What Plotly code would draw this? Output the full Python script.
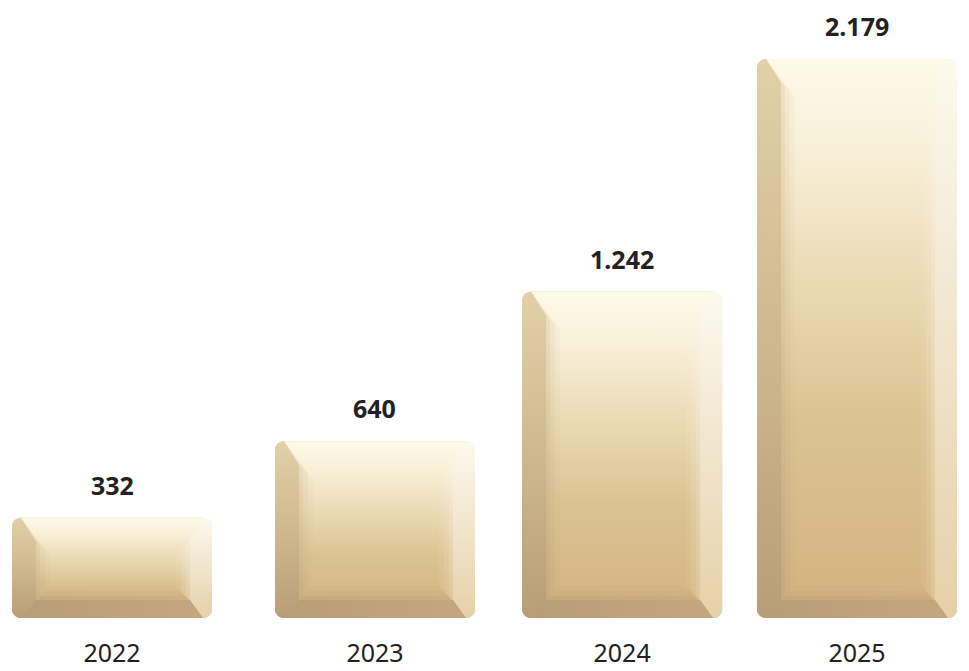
import math
import plotly.graph_objects as go

# ---------------- data ----------------
years = ["2022", "2023", "2024", "2025"]
values = [332, 640, 1242, 2179]

# ---------------- layout / style constants ----------------
FIG_W, FIG_H = 953, 663  # page adds an 8px body margin around the figure
MARGIN_B = 53            # plot bottom sits at the bars' floor
TOP_PAD_PX = 51          # space above the tallest bar
FLOOR = -72              # visual pedestal under the bars (axis baseline)
X_RANGE = [-0.4188, 3.4188]
X_NUDGE = [0.0, 0.059, 0.054, 0.0]   # small horizontal nudges of bars
BAR_W_PX = 200
RADIUS_PX = 9
EDGE_L, EDGE_R, EDGE_B, EDGE_T = 24, 22, 18, 24
TEXT_COLOR = "#222222"
FONT = "Noto Sans"
FONT_SIZE = 25

FACE_SCALE = [[0.0, "#d3b37f"], [0.35, "#dcc292"], [0.6, "#eadab4"],
              [0.85, "#f8f1d9"], [1.0, "#fdfae8"]]
LEFT_SCALE = [[0.0, "#b99d78"], [0.5, "#cfb88f"], [1.0, "#e2d0a9"]]
RIGHT_SCALE = [[0.0, "#e6d0a8"], [0.5, "#f0e5cc"], [1.0, "#fcf9ee"]]
BOTTOM_SCALE = [[0.0, "#b99d78"], [1.0, "#c4a77d"]]
SOFTEN = ((14, 0.12), (9, 0.2), (4, 0.35), (0, 1.0))

plot_h = FIG_H - MARGIN_B
ux = FIG_W / (X_RANGE[1] - X_RANGE[0])                 # px per x unit
uy = (plot_h - TOP_PAD_PX) / (max(values) - FLOOR)     # px per y unit
Y_RANGE = [FLOOR, FLOOR + plot_h / uy]
bar_w = BAR_W_PX / ux
positions = [i + X_NUDGE[i] for i in range(len(years))]


def arc(cx, cy, r, a0, a1, n=10):
    return [(cx + r * math.cos(math.radians(a0 + (a1 - a0) * k / n)),
             cy + r * math.sin(math.radians(a0 + (a1 - a0) * k / n)))
            for k in range(n + 1)]


def to_data(pts, center):
    xs = [center + (px - BAR_W_PX / 2) / ux for px, _ in pts]
    ys = [FLOOR + py / uy for _, py in pts]
    return xs + [xs[0]], ys + [ys[0]]


def poly_trace(pts, center, scale, kind, opacity=1.0):
    xs, ys = to_data(pts, center)
    return go.Scatter(x=xs, y=ys, mode="none", fill="toself",
                      fillgradient=dict(type=kind, colorscale=scale),
                      opacity=opacity, hoverinfo="skip", showlegend=False)


fig = go.Figure()

# real bars (base layer, carries hover info)
fig.add_trace(go.Bar(
    x=positions, y=[v - FLOOR for v in values], base=FLOOR, width=bar_w,
    marker=dict(color="#d9c197", cornerradius=RADIUS_PX, line=dict(width=0)),
    customdata=values, hovertemplate="%{customdata}<extra></extra>",
    showlegend=False))

W, r = BAR_W_PX, RADIUS_PX
for v, c in zip(values, positions):
    H = (v - FLOOR) * uy
    # face: full rounded rectangle with vertical gradient
    face = (arc(r, r, r, 180, 270) + arc(W - r, r, r, 270, 360) +
            arc(W - r, H - r, r, 0, 90) + arc(r, H - r, r, 90, 180))
    fig.add_trace(poly_trace(face, c, FACE_SCALE, "vertical"))

    for grow, op in SOFTEN:
        L, R, B, T = EDGE_L + grow, EDGE_R + grow, EDGE_B + grow, EDGE_T + grow
        left = ([(L, H - T), (L, B)] + arc(r, r, r, 270, 180) +
                arc(r, H - r, r, 180, 90))
        fig.add_trace(poly_trace(left, c, LEFT_SCALE, "vertical", op))
        right = ([(W - R, B)] + arc(W - r, r, r, 270, 360) +
                 arc(W - r, H - r, r, 0, 90) + [(W - R, H - T)])
        fig.add_trace(poly_trace(right, c, RIGHT_SCALE, "vertical", op))
        bottom = [(r, 0), (W - r, 0), (W - R, B), (L, B)]
        fig.add_trace(poly_trace(bottom, c, BOTTOM_SCALE, "horizontal", op))

# value labels
for v, c in zip(values, positions):
    fig.add_annotation(x=c, y=v, yshift=33, showarrow=False,
                       text="<b>" + f"{v:,}".replace(",", ".") + "</b>",
                       font=dict(family=FONT, size=FONT_SIZE, color=TEXT_COLOR),
                       xanchor="center", yanchor="middle")

fig.update_layout(
    width=FIG_W, height=FIG_H, autosize=False,
    margin=dict(l=0, r=0, t=0, b=MARGIN_B, pad=0, autoexpand=False),
    paper_bgcolor="white", plot_bgcolor="white",
    barmode="overlay", separators=",.",
    font=dict(family=FONT, color=TEXT_COLOR),
    xaxis=dict(range=X_RANGE, tickvals=positions, ticktext=years,
               showgrid=False, zeroline=False, showline=False, ticks="",
               tickfont=dict(family=FONT, size=FONT_SIZE, color=TEXT_COLOR),
               ticklabelstandoff=18, automargin=False, fixedrange=True),
    yaxis=dict(range=Y_RANGE, visible=False, automargin=False,
               fixedrange=True),
)

fig.write_html("out.html")
